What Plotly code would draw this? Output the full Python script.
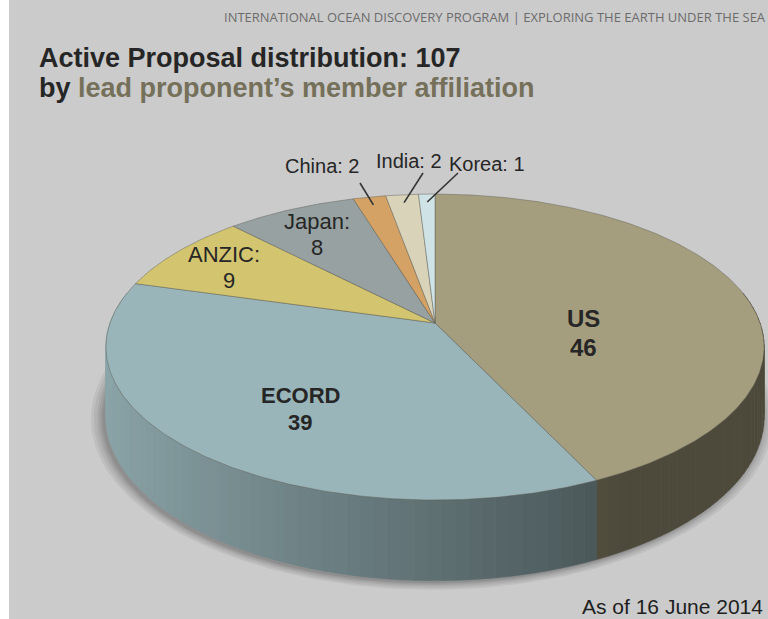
import numpy as np
import plotly.graph_objects as go

# ---- data -------------------------------------------------------------
members = ["US", "ECORD", "ANZIC", "Japan", "China", "India", "Korea"]
proposals = [46, 39, 9, 8, 2, 2, 1]
top_colors = ["#a59e7e", "#99b5b9", "#d3c46f", "#97a1a1", "#d4a264", "#d9d3ba", "#cfe2e5"]
total = sum(proposals)  # 107

# ---- page / pie geometry (pixel axes) ---------------------------------
W, H = 768, 619
CX, CY = 435, 323      # apex of the pie
RX, RY = 325, 149.2    # radii of the tilted disc
K = 0.157              # perspective strength
DEPTH = 68             # thickness of the disc


def project(theta_deg, r=1.0, z=0.0):
    """Map a point of the disc (angle clockwise from 12 o'clock) to the page."""
    th = np.radians(theta_deg)
    u = r * np.sin(th)
    v = -r * np.cos(th)
    s = 1.0 / (1.0 - K * v)
    return CX + RX * u * s, CY + RY * v * s + z * s


def hex_rgb(h):
    h = h.lstrip("#")
    return tuple(int(h[i:i + 2], 16) for i in (0, 2, 4))


def shade(hexcol, f):
    r, g, b = hex_rgb(hexcol)
    return f"rgb({int(r * f)},{int(g * f)},{int(b * f)})"


# slice angle ranges (clockwise from top)
bounds = np.concatenate([[0], np.cumsum(proposals)]) / total * 360.0

fig = go.Figure()

# soft drop shadow under the disc, darkest right at the rim
ang = np.linspace(0, 360, 241)
bx, by = project(ang, 1.0, DEPTH)
mx, my = np.mean(bx), np.mean(by)
for e in [12, 9, 6, 4, 2, 0.5]:
    dx, dy = bx - mx, by - my
    n = np.hypot(dx, dy)
    sx = bx + dx / n * e - 3
    sy = by + dy / n * e * 0.6 + 2
    fig.add_trace(go.Scatter(x=sx, y=sy, mode="lines", fill="toself",
                             fillcolor="rgba(30,30,30,0.065)", line=dict(width=0),
                             hoverinfo="skip", showlegend=False))

# side wall, drawn in thin strips so the shading can vary along it
VIS_LO, VIS_HI = 78.0, 282.0
for i, col in enumerate(top_colors):
    a0 = max(bounds[i], VIS_LO)
    a1 = min(bounds[i + 1], VIS_HI)
    if a1 <= a0:
        continue
    edges = np.linspace(a0, a1, max(2, int((a1 - a0) / 2) + 1))
    for t0, t1 in zip(edges[:-1], edges[1:]):
        tt = np.linspace(t0, t1, 4)
        xt, yt = project(tt)
        xb, yb = project(tt[::-1], 1.0, DEPTH)
        um = np.sin(np.radians((t0 + t1) / 2))
        f = 0.62 - 0.30 * um if um < 0.5 else 0.47
        c = shade(col, f)
        fig.add_trace(go.Scatter(x=np.r_[xt, xb, xt[0]], y=np.r_[yt, yb, yt[0]],
                                 mode="lines", fill="toself", fillcolor=c,
                                 line=dict(color=c, width=0.6),
                                 hoverinfo="skip", showlegend=False))

# top faces of the slices
for i, (name, val, col) in enumerate(zip(members, proposals, top_colors)):
    tt = np.linspace(bounds[i], bounds[i + 1], max(3, int((bounds[i + 1] - bounds[i]) * 2)))
    xa, ya = project(tt)
    fig.add_trace(go.Scatter(x=np.r_[CX, xa, CX], y=np.r_[CY, ya, CY],
                             mode="lines", fill="toself", fillcolor=col,
                             line=dict(color="rgba(90,90,80,0.55)", width=0.8),
                             name=name, hoverinfo="skip", showlegend=False))

# ---- labels -------------------------------------------------------------
FONT = "Liberation Sans, Arial, sans-serif"
DARK = "#262626"
ann = []


def label(x, y, text, size, anchor="center", color=DARK, family=FONT):
    ann.append(dict(x=x, y=y, xref="x", yref="y", text=text, showarrow=False,
                    xanchor=anchor, yanchor="middle", align="center",
                    font=dict(family=family, size=size, color=color)))


label(583, 318, f"<b>{members[0]}</b>", 24)
label(583, 347, f"<b>{proposals[0]}</b>", 24)
label(300, 395, f"<b>{members[1]}</b>", 22)
label(300, 422, f"<b>{proposals[1]}</b>", 22)
label(224, 254, f"{members[2]}:", 22)
label(229, 280, f"{proposals[2]}", 22)
label(317, 221, f"{members[3]}:", 22)
label(317, 247, f"{proposals[3]}", 22)

# small slices: labels above the disc with leader lines
small = {4: (322, 166, 360, 183), 5: (409, 161, 423, 173), 6: (487, 164, 458, 173)}
shapes = [dict(type="rect", xref="x", yref="y", x0=9, x1=W, y0=0, y1=H,
               fillcolor="#cbcbcb", line=dict(width=0), layer="below")]
for i, (lx, ly, ex, ey) in small.items():
    label(lx, ly, f"{members[i]}: {proposals[i]}", 20)
    mid = (bounds[i] + bounds[i + 1]) / 2
    px, py = project(mid, 0.93)
    shapes.append(dict(type="line", xref="x", yref="y", x0=ex, y0=ey,
                       x1=float(px), y1=float(py),
                       line=dict(color="#333333", width=1.6)))

# titles and notes
label(222, 17, "INTERNATIONAL OCEAN DISCOVERY PROGRAM | EXPLORING THE EARTH UNDER THE SEA",
      13, anchor="left", color="#6b6b6b", family="Open Sans, sans-serif")
label(37, 57.5, f"<b>Active Proposal distribution: {total}</b>", 27, anchor="left")
label(37, 87.5, "<b>by <span style='color:#75705a'>lead proponent’s member affiliation</span></b>",
      27, anchor="left")
label(765, 606, "As of 16 June 2014", 21, anchor="right", color="#1e1e1e")

fig.update_layout(
    width=W, height=H,
    margin=dict(l=0, r=0, t=0, b=0),
    paper_bgcolor="white", plot_bgcolor="rgba(0,0,0,0)",
    xaxis=dict(range=[0, W], visible=False, fixedrange=True),
    yaxis=dict(range=[H, 0], visible=False, fixedrange=True),
    annotations=ann, shapes=shapes,
)

fig.write_html("out.html")
